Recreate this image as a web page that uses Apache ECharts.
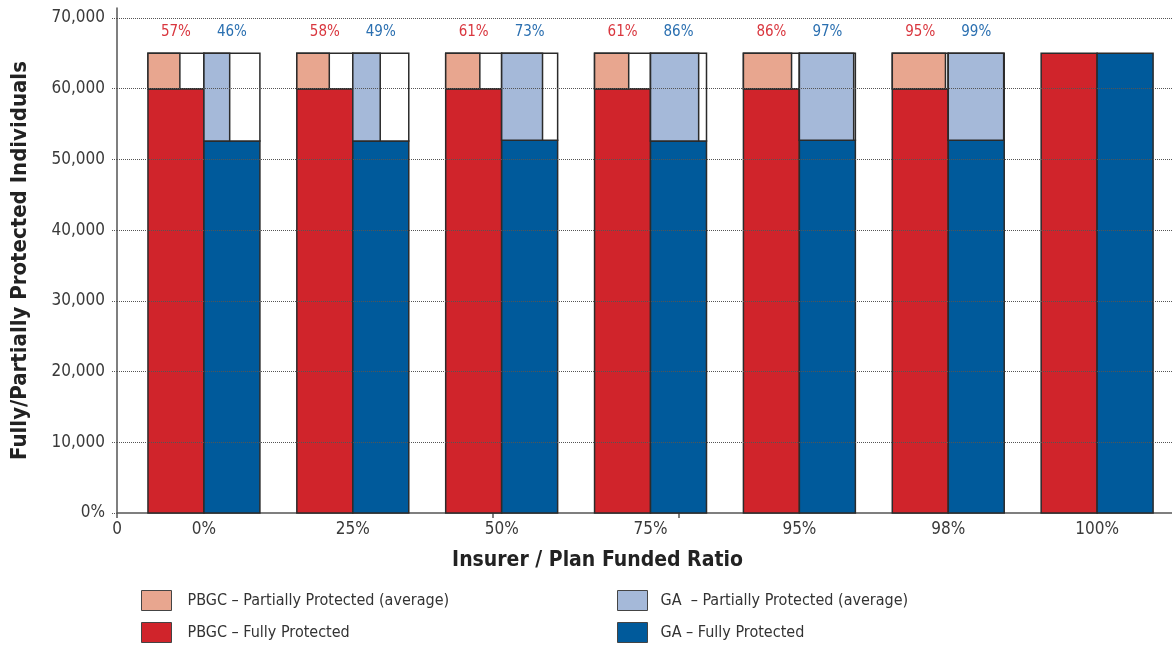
<!DOCTYPE html>
<html><head><meta charset="utf-8">
<script src="https://cdn.jsdelivr.net/npm/echarts@6/dist/echarts.min.js"></script>
<style>html,body{margin:0;padding:0;background:#fff}#c{width:1172px;height:646px}</style>
</head><body><div id="c"></div>
<script>
const categories = ['0%','25%','50%','75%','95%','98%','100%'];
const pbgcFull = [60000,60000,60000,60000,60000,60000,65000];
const gaFull = [52600,52600,52700,52600,52700,52700,65000];
const totals = [65000,65000,65000,65000,65000,65000,65000];
const pbgcPartialPct = [57,58,61,61,86,95,null];
const gaPartialPct = [46,49,73,86,97,99,null];
const yTicks = [0,10000,20000,30000,40000,50000,60000,70000];

const X_MIN = -0.584, X_MAX = 6.503;
const xTickMarks = [X_MIN, 1.94, 3.19];
const FONT = '"DejaVu Sans Condensed", "DejaVu Sans", sans-serif';
const BAR_HALF = 0.376;
const STROKE = '#2b2b2b';
const C_RED = '#d0242b', C_RED_L = '#e8a68f', C_BLUE = '#005a9b', C_BLUE_L = '#a5b9d9';
const N_PF = 'PBGC – Partially Protected (average)';
const N_F = 'PBGC – Fully Protected';
const N_GP = 'GA  – Partially Protected (average)';
const N_GF = 'GA – Fully Protected';

function fullRender(side, color) {
  return function (params, api) {
    const i = api.value(0), v = api.value(1);
    const bw = api.size([1, 0])[0] * BAR_HALF;
    const top = api.coord([i, v]);
    const base = api.coord([i, 0]);
    const x0 = side < 0 ? top[0] - bw : top[0];
    return {type: 'rect', shape: {x: x0, y: top[1], width: bw, height: base[1] - top[1]},
      style: {fill: color, stroke: STROKE, lineWidth: 1.5}};
  };
}
function partialRender(side, color, labelColor) {
  return function (params, api) {
    const i = api.value(0), full = api.value(1), total = api.value(2), pct = api.value(3);
    const bw = api.size([1, 0])[0] * BAR_HALF;
    const pTop = api.coord([i, total]);
    const pBot = api.coord([i, full]);
    const x0 = side < 0 ? pTop[0] - bw : pTop[0];
    const h = pBot[1] - pTop[1];
    return {type: 'group', children: [
      {type: 'rect', shape: {x: x0, y: pTop[1], width: bw, height: h},
        style: {fill: '#fff', stroke: STROKE, lineWidth: 1.5}},
      {type: 'rect', shape: {x: x0, y: pTop[1], width: bw * pct / 100, height: h},
        style: {fill: color, stroke: STROKE, lineWidth: 1.5}},
      {type: 'text', x: x0 + bw / 2, y: pTop[1] - 21,
        style: {text: pct + '%', fill: labelColor, font: '15px ' + FONT, align: 'center', verticalAlign: 'middle'}}
    ]};
  };
}

const idx = categories.map((_, i) => i);
const pbgcFullData = idx.map(i => [i, pbgcFull[i]]);
const gaFullData = idx.map(i => [i, gaFull[i]]);
const pbgcPartData = idx.filter(i => pbgcPartialPct[i] != null).map(i => [i, pbgcFull[i], totals[i], pbgcPartialPct[i]]);
const gaPartData = idx.filter(i => gaPartialPct[i] != null).map(i => [i, gaFull[i], totals[i], gaPartialPct[i]]);

const chart = echarts.init(document.getElementById('c'), null, {renderer: 'canvas'});
const txt = {fontFamily: FONT, color: '#3a3a3a'};
chart.setOption({
  animation: false,
  backgroundColor: '#fff',
  grid: {left: 117, right: 0, top: 8, bottom: 133, outerBoundsMode: 'none', containLabel: false},
  xAxis: {
    type: 'value', min: X_MIN, max: X_MAX,
    name: 'Insurer / Plan Funded Ratio', nameLocation: 'middle', nameGap: 37,
    nameTextStyle: {fontFamily: FONT, fontWeight: 'bold', fontSize: 21, color: '#222', padding: [0, 94, 0, 0]},
    axisLine: {show: true, onZero: false, lineStyle: {color: '#555', width: 1.5}},
    axisTick: {show: true, customValues: xTickMarks, length: 5, lineStyle: {color: '#555', width: 1.5}},
    axisLabel: {customValues: [X_MIN].concat(idx), fontSize: 17, ...txt, margin: 8,
      formatter: v => v < 0 ? '0' : categories[Math.round(v)]},
    splitLine: {show: false}
  },
  yAxis: {
    type: 'value', min: 0, max: 71400,
    name: 'Fully/Partially Protected Individuals', nameLocation: 'middle', nameGap: 86,
    nameTextStyle: {fontFamily: FONT, fontWeight: 'bold', fontSize: 22, color: '#222'},
    axisLine: {show: true, onZero: false, lineStyle: {color: '#555', width: 1.5}},
    axisTick: {show: true, customValues: yTicks, length: 6, lineStyle: {color: '#555', type: 'dotted', width: 1}},
    axisLabel: {customValues: yTicks, fontSize: 17, ...txt, margin: 12,
      formatter: v => v === 0 ? '0%' : v.toLocaleString('en-US')},
    splitLine: {show: false}
  },
  legend: [
    {left: 141, top: 590, padding: 0, orient: 'vertical', icon: 'rect', itemWidth: 30, itemHeight: 20, itemGap: 11,
      selectedMode: false, data: [N_PF, N_F],
      itemStyle: {borderColor: '#444', borderWidth: 1},
      textStyle: {fontFamily: FONT, fontSize: 16, color: '#333', padding: [0, 0, 0, 11]}},
    {left: 617, top: 590, padding: 0, orient: 'vertical', icon: 'rect', itemWidth: 30, itemHeight: 20, itemGap: 11,
      selectedMode: false, data: [N_GP, N_GF],
      itemStyle: {borderColor: '#444', borderWidth: 1},
      textStyle: {fontFamily: FONT, fontSize: 16, color: '#333', padding: [0, 0, 0, 8]}}
  ],
  series: [
    {type: 'line', name: 'grid', data: [], z: 1, silent: true,
      markLine: {silent: true, symbol: 'none', label: {show: false},
        lineStyle: {color: '#555', type: 'dotted', width: 1},
        data: yTicks.filter(v => v > 0).map(v => ({yAxis: v}))}},
    {type: 'custom', name: N_F, z: 3, itemStyle: {color: C_RED}, renderItem: fullRender(-1, C_RED),
      data: pbgcFullData, encode: {x: 0, y: 1}},
    {type: 'custom', name: N_GF, z: 3, itemStyle: {color: C_BLUE}, renderItem: fullRender(1, C_BLUE),
      data: gaFullData, encode: {x: 0, y: 1}},
    {type: 'custom', name: N_PF, z: 4, itemStyle: {color: C_RED_L}, renderItem: partialRender(-1, C_RED_L, '#d9363e'),
      data: pbgcPartData, encode: {x: 0, y: [1, 2]}},
    {type: 'custom', name: N_GP, z: 4, itemStyle: {color: C_BLUE_L}, renderItem: partialRender(1, C_BLUE_L, '#2a6fb0'),
      data: gaPartData, encode: {x: 0, y: [1, 2]}}
  ]
});
</script></body></html>
